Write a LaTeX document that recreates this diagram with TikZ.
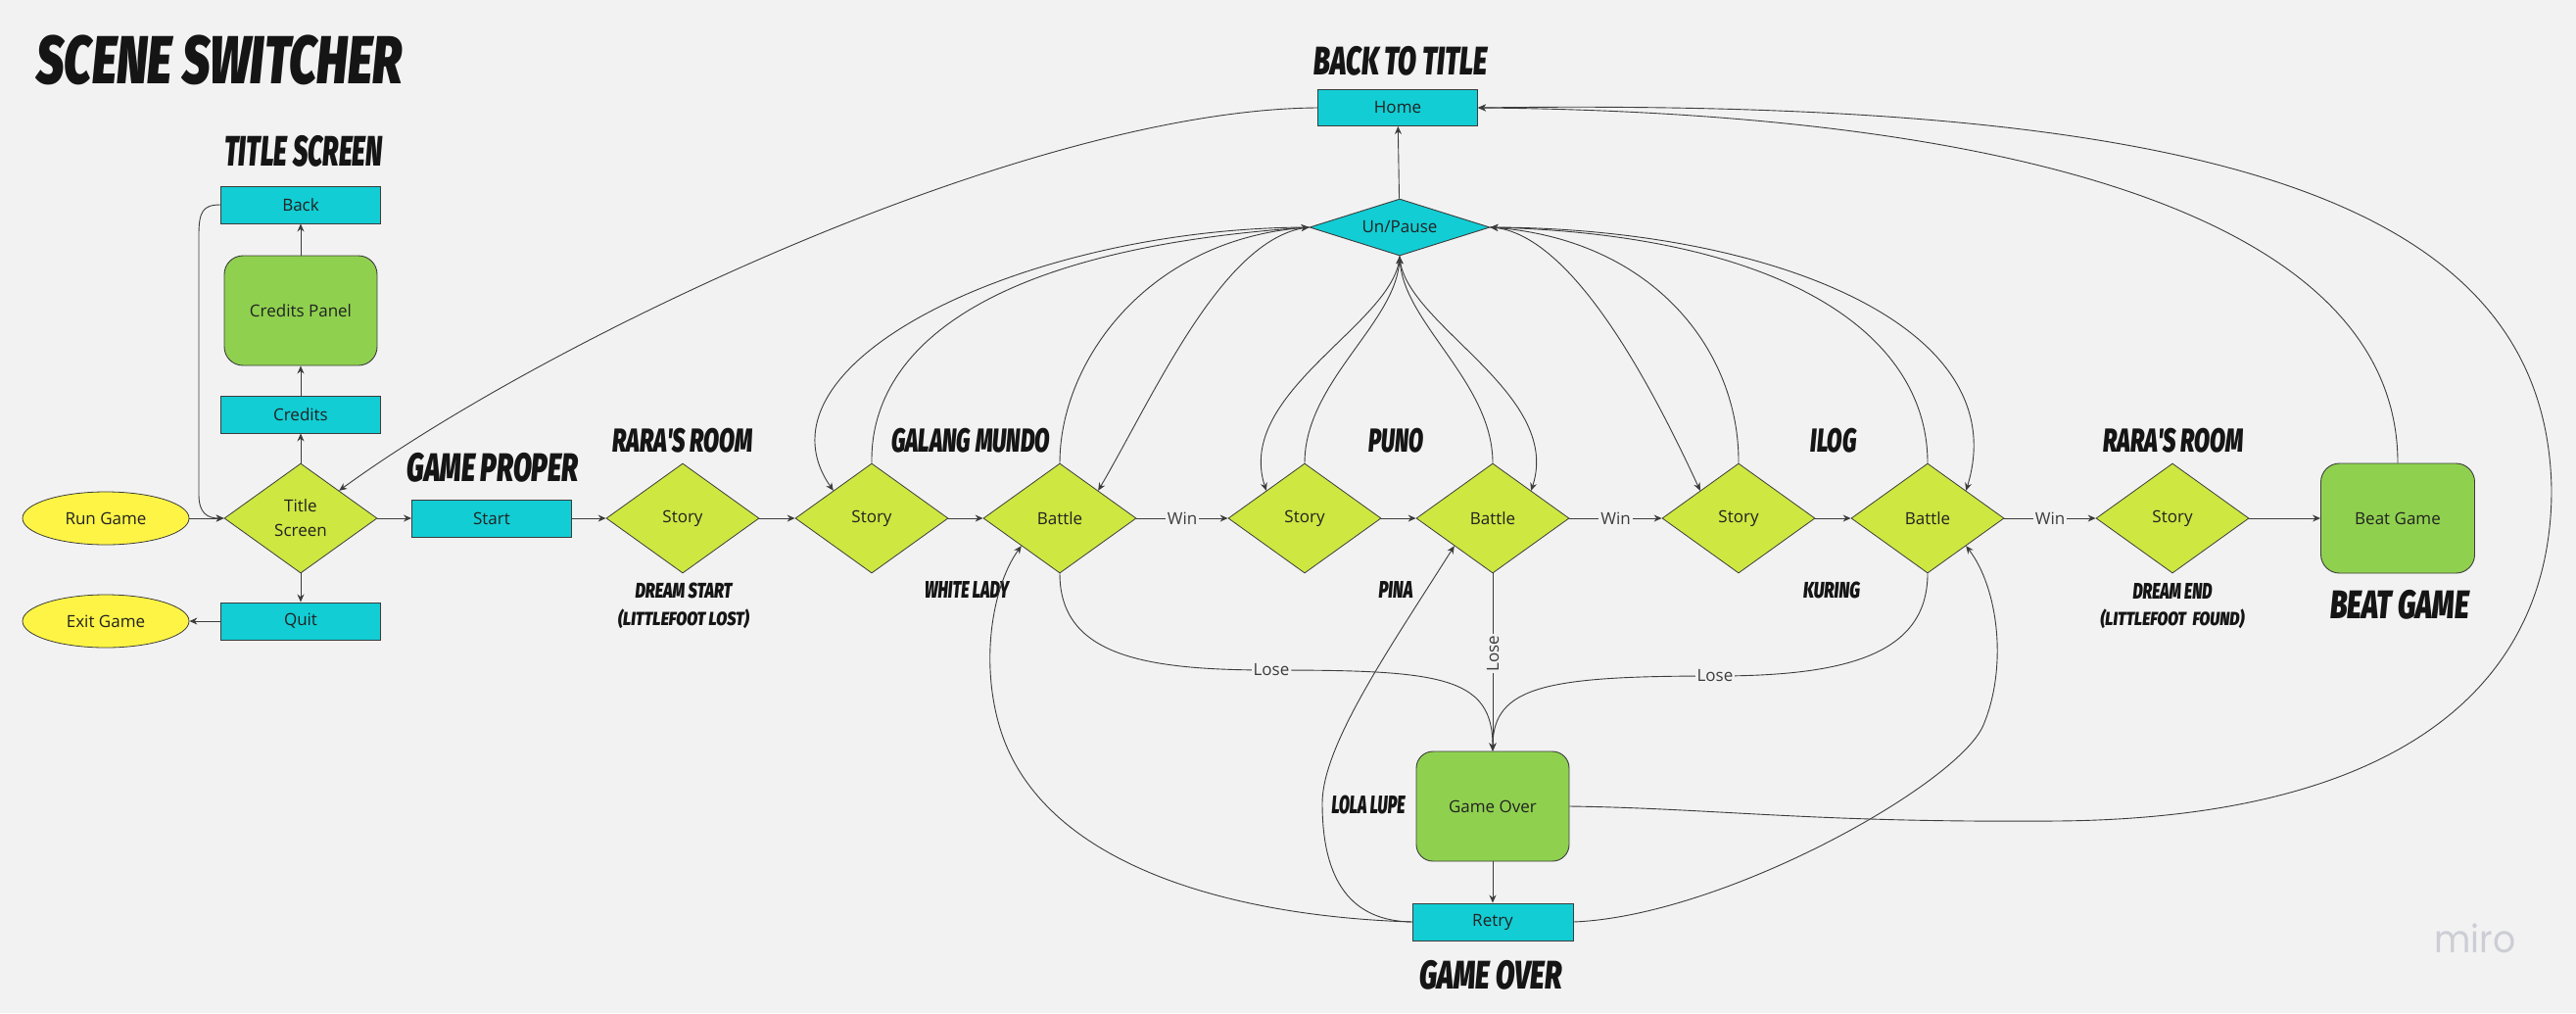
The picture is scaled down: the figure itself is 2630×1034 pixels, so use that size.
\documentclass[tikz,border=0pt]{standalone}
\usepackage{fontspec}
\setmainfont{Open Sans}
\IfFontExistsTF{Fira Sans Black Italic}
  {\newfontfamily\headfont{Fira Sans Black Italic}\newcommand\hdshape{}}
  {\newfontfamily\headfont{Fira Sans}\newcommand\hdshape{\bfseries\itshape}}
\newfontfamily\logofont{Poppins}
\usepackage{graphicx}
\usetikzlibrary{shapes.geometric,arrows.meta}
\definecolor{bg}{HTML}{F2F2F2}
\definecolor{cyanbox}{HTML}{12CDD4}
\definecolor{lime}{HTML}{CEE741}
\definecolor{grn}{HTML}{8FD14F}
\definecolor{yel}{HTML}{FEF445}
\definecolor{ln}{HTML}{3C3C3C}
\definecolor{txt}{HTML}{222222}
\definecolor{hdcol}{HTML}{151515}
\definecolor{logocol}{HTML}{CDCDD6}
\newcommand\hd[3]{\resizebox*{#1pt}{#2pt}{\headfont\hdshape #3}}
\begin{document}
\begin{tikzpicture}[x=1pt,y=-1pt,
  every node/.style={font=\fontsize{17}{25}\selectfont, text=txt},
  boxc/.style={rectangle, draw=ln, fill=cyanbox, line width=0.9pt, minimum width=163pt, minimum height=38pt, inner sep=0pt},
  dia/.style={diamond, draw=ln, fill=lime, line width=0.8pt, minimum width=156pt, minimum height=112pt, aspect=1.39, inner sep=0pt, align=center},
  pausest/.style={diamond, draw=ln, fill=cyanbox, line width=0.9pt, minimum width=184pt, minimum height=58pt, aspect=3.17, inner sep=0pt},
  rnd/.style={rectangle, rounded corners=19pt, draw=ln, fill=grn, line width=0.9pt, minimum width=156pt, minimum height=112pt, inner sep=0pt},
  ell/.style={ellipse, draw=ln, fill=yel, line width=0.8pt, minimum width=170pt, minimum height=54pt, inner sep=0pt},
  hdg/.style={inner sep=0pt, text=hdcol},
  conn/.style={draw=ln, line width=0.9pt, -{Stealth[length=8pt,width=7pt]}},
  elab/.style={fill=bg, inner sep=2pt, text=ln}
]
\path[use as bounding box, fill=bg] (0,0) rectangle (2630,1034);

% ---------- headings ----------
\node[hdg] (hMain)  at (224,61)   {\hd{373}{51}{SCENE SWITCHER}};
\node[hdg] (hTitle) at (310,154)  {\hd{161}{32}{TITLE SCREEN}};
\node[hdg] (hBack)  at (1430,62)  {\hd{177}{30}{BACK TO TITLE}};
\node[hdg] (hGame)  at (503,477)  {\hd{175}{30}{GAME PROPER}};
\node[hdg] (hRara1) at (697,450)  {\hd{143}{25}{RARA'S ROOM}};
\node[hdg] (hGal)   at (991,450)  {\hd{162}{25}{GALANG MUNDO}};
\node[hdg] (hPuno)  at (1425,450) {\hd{56}{25}{PUNO}};
\node[hdg] (hIlog)  at (1872,450) {\hd{47}{25}{ILOG}};
\node[hdg] (hRara2) at (2219,450) {\hd{143}{25}{RARA'S ROOM}};
\node[hdg] (hDs)    at (698,603)  {\hd{99}{16}{DREAM START}};
\node[hdg] (hLl)    at (698,632)  {\hd{134}{20}{(LITTLEFOOT LOST)}};
\node[hdg] (hWl)    at (987,602)  {\hd{86}{17}{WHITE LADY}};
\node[hdg] (hPina)  at (1425,602) {\hd{35}{17}{PINA}};
\node[hdg] (hKur)   at (1870,602) {\hd{58}{17}{KURING}};
\node[hdg] (hDe)    at (2218,603) {\hd{81}{16}{DREAM END}};
\node[hdg] (hLf)    at (2218,632) {\hd{147}{20}{(LITTLEFOOT\ \ FOUND)}};
\node[hdg] (hLola)  at (1397,822) {\hd{75}{19}{LOLA LUPE}};
\node[hdg] (hBeat)  at (2450,617) {\hd{142}{30}{BEAT GAME}};
\node[hdg] (hOver)  at (1522,995) {\hd{145}{30}{GAME OVER}};

% ---------- nodes ----------
\node[ell] (run)   at (108,529) {Run Game};
\node[ell] (exitg) at (108,634) {Exit Game};
\node[dia] (title) at (307,529) {Title\\Screen};
\node[boxc] (credits) at (307,423) {Credits};
\node[rnd] (panel) at (307,317) {Credits Panel};
\node[boxc] (back) at (307,209) {Back};
\node[boxc] (quit) at (307,634) {Quit};
\node[boxc] (start) at (502,529) {Start};
\node[dia] (s1) at (697,529) {Story};
\node[dia] (s2) at (890,529) {Story};
\node[dia] (b1) at (1082,529) {Battle};
\node[dia] (s3) at (1332,529) {Story};
\node[dia] (b2) at (1524,529) {Battle};
\node[dia] (s4) at (1775,529) {Story};
\node[dia] (b3) at (1968,529) {Battle};
\node[dia] (s5) at (2218,529) {Story};
\node[rnd, minimum width=157pt] (beat) at (2448,529) {Beat Game};
\node[pausest] (pause) at (1429,232) {Un/Pause};
\node[boxc, minimum height=37pt] (home) at (1427,110) {Home};
\node[rnd, rounded corners=17pt] (over) at (1524,823) {Game Over};
\node[boxc, minimum width=164pt] (retry) at (1524,941) {Retry};

\node[inner sep=0pt, text=logocol] (logo) at (2527,958) {\resizebox*{83pt}{30pt}{\logofont miro}};

% ---------- title screen ----------
\draw[conn] (run) -- (title);
\draw[conn] (title) -- (credits);
\draw[conn] (credits) -- (panel);
\draw[conn] (panel) -- (back);
\draw[conn] (back.west) .. controls (207,209) and (203,216) .. (203,240) -- (203,505) .. controls (203,524) and (212,529) .. (title.west);
\draw[conn] (title) -- (quit);
\draw[conn] (quit) -- (exitg);

% ---------- main chain ----------
\draw[conn] (title) -- (start);
\draw[conn] (start) -- (s1);
\draw[conn] (s1) -- (s2);
\draw[conn] (s2) -- (b1);
\draw[conn] (b1) -- node[elab] {Win} (s3);
\draw[conn] (s3) -- (b2);
\draw[conn] (b2) -- node[elab] {Win} (s4);
\draw[conn] (s4) -- (b3);
\draw[conn] (b3) -- node[elab] {Win} (s5);
\draw[conn] (s5) -- (beat);

% ---------- pause ----------
\draw[conn] (pause) -- (home);
\draw[conn] (home.west) .. controls (1050,112) and (560,345) .. (title.north east);
% left group
\draw[conn] (pause.west) .. controls (1050,232) and (760,370) .. (s2.north west);
\draw[conn] (s2.north) .. controls (888,360) and (1000,255) .. (pause.west);
\draw[conn] (b1.north) .. controls (1082,370) and (1170,245) .. (pause.west);
\draw[conn] (pause.west) .. controls (1250,240) and (1180,400) .. (b1.north east);
% middle group
\draw[conn] (pause.south) .. controls (1425,330) and (1260,400) .. (s3.north west);
\draw[conn] (s3.north) .. controls (1332,390) and (1425,330) .. (pause.south);
\draw[conn] (b2.north) .. controls (1524,390) and (1433,330) .. (pause.south);
\draw[conn] (pause.south) .. controls (1431,330) and (1596,400) .. (b2.north east);
% right group
\draw[conn] (pause.east) .. controls (1600,235) and (1680,380) .. (s4.north west);
\draw[conn] (s4.north) .. controls (1776,360) and (1690,245) .. (pause.east);
\draw[conn] (b3.north) .. controls (1968,340) and (1820,240) .. (pause.east);
\draw[conn] (pause.east) .. controls (1800,232) and (2060,330) .. (b3.north east);

% ---------- lose ----------
\draw[conn] (b1.south) .. controls (1082,670) and (1170,684) .. (1298,684) node[elab] {Lose}
   .. controls (1470,684) and (1524,690) .. (over.north);
\draw[conn] (b2) -- node[elab, rotate=90, pos=0.45] {Lose} (over);
\draw[conn] (b3.south) .. controls (1968,670) and (1880,690) .. (1751,690) node[elab] {Lose}
   .. controls (1580,690) and (1524,700) .. (over.north);

% ---------- game over / retry ----------
\draw[conn] (over) -- (retry);
\draw[conn] (retry.west) .. controls (1250,935) and (1060,880) .. (1020,740)
   .. controls (1000,670) and (1015,595) .. (b1.south west);
\draw[conn] (retry.west) .. controls (1380,940) and (1350,900) .. (1350,820)
   .. controls (1350,760) and (1420,660) .. (b2.south west);
\draw[conn] (retry.east) .. controls (1760,935) and (2000,800) .. (2025,740)
   .. controls (2050,680) and (2040,600) .. (b3.south east);

% ---------- back to home ----------
\draw[conn] (beat.north) .. controls (2448,220) and (2050,115) .. (home.east);
\draw[conn] (over.east) .. controls (1750,825) and (1850,840) .. (2100,838)
   .. controls (2450,835) and (2605,700) .. (2605,500)
   .. controls (2600,200) and (2250,100) .. (home.east);
\end{tikzpicture}
\end{document}
